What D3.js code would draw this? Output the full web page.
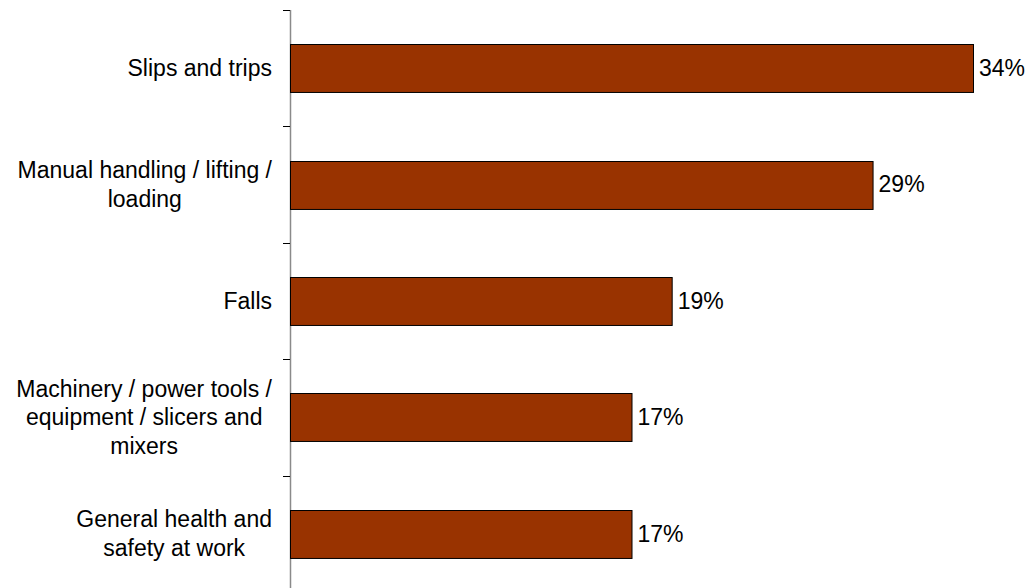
<!DOCTYPE html>
<html>
<head>
<meta charset="utf-8">
<script src="https://cdn.jsdelivr.net/npm/d3@7"></script>
<style>
  html, body { margin: 0; padding: 0; background: #fff; }
  svg { display: block; }
  text { font-family: Arial, "Liberation Sans", sans-serif; fill: #000; }
</style>
</head>
<body>
<svg id="chart" width="1031" height="588"></svg>
<script>
const categories = [
  ["Slips and trips"],
  ["Manual handling / lifting /", "loading"],
  ["Falls"],
  ["Machinery / power tools /", "equipment / slicers and", "mixers"],
  ["General health and", "safety at work"]
];
const values = [34, 29, 19, 17, 17];
const valueLabels = ["34%", "29%", "19%", "17%", "17%"];

const W = 1031, H = 588;
const axisX = 290, plotTop = 10, plotBottom = 592;
const fontSize = 23, lineH = 28.5;

const svg = d3.select("#chart");

const y = d3.scaleBand()
  .domain(d3.range(values.length))
  .range([plotTop, plotBottom])
  .paddingInner(0.588)
  .paddingOuter(0.294);

const x = d3.scaleLinear().domain([0, 34]).range([axisX, 973]);

// axis line
svg.append("line")
  .attr("x1", axisX + 0.5).attr("x2", axisX + 0.5)
  .attr("y1", plotTop).attr("y2", H)
  .attr("stroke", "#8a8a8a").attr("stroke-width", 1.5);

// ticks at band boundaries
const step = y.step();
const tickYs = d3.range(values.length + 1).map(i => plotTop + i * step);
svg.selectAll(".tick").data(tickYs).enter().append("line")
  .attr("x1", axisX - 7).attr("x2", axisX)
  .attr("y1", d => Math.round(d) + 0.5).attr("y2", d => Math.round(d) + 0.5)
  .attr("stroke", "#000").attr("stroke-width", 1);

// bars
svg.selectAll(".bar").data(values).enter().append("rect")
  .attr("x", x(0) + 0.5)
  .attr("y", (d, i) => Math.round(y(i)) + 0.5)
  .attr("width", d => x(d) - x(0))
  .attr("height", y.bandwidth())
  .attr("fill", "#993300")
  .attr("stroke", "#000")
  .attr("stroke-width", 1);

// value labels
svg.selectAll(".val").data(values).enter().append("text")
  .attr("x", d => x(d) + 6)
  .attr("y", (d, i) => y(i) + y.bandwidth() / 2)
  .attr("dy", "0.34em")
  .attr("font-size", fontSize)
  .text((d, i) => valueLabels[i]);

// category labels: block right-aligned, lines centered within block
const labelRight = 272;
categories.forEach((lines, i) => {
  const g = svg.append("g");
  const texts = lines.map(l => g.append("text").attr("font-size", fontSize).text(l));
  const widths = texts.map(t => t.node().getComputedTextLength());
  const maxW = d3.max(widths);
  const cx = labelRight - maxW / 2;
  const cy = y(i) + y.bandwidth() / 2;
  const n = lines.length;
  texts.forEach((t, j) => {
    t.attr("x", cx)
     .attr("text-anchor", "middle")
     .attr("y", cy + (j - (n - 1) / 2) * lineH)
     .attr("dy", "0.34em");
  });
});
</script>
</body>
</html>
